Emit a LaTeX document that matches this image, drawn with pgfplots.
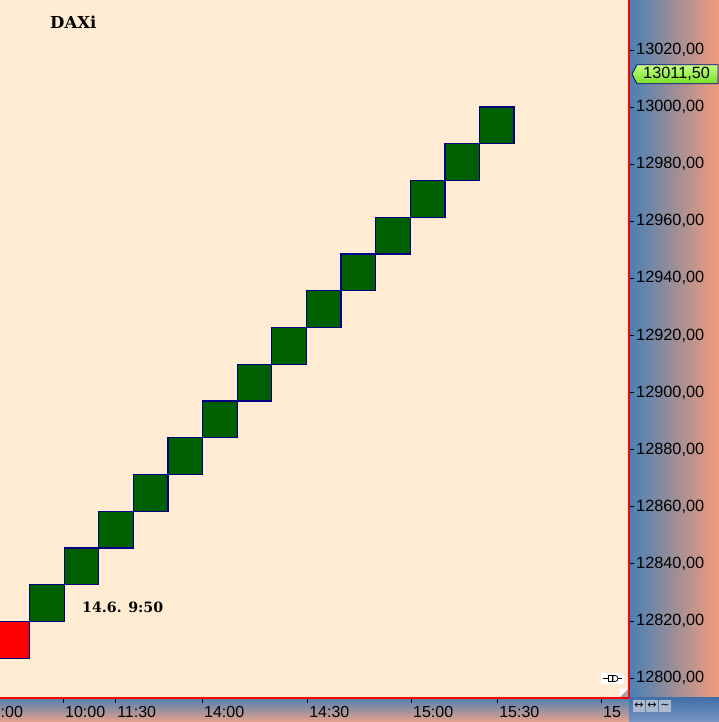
\documentclass[border=0pt]{standalone}
\usepackage{pgfplots}
\pgfplotsset{compat=1.18}
\usepackage{pgfplotstable}
\usepackage{fontspec}
\setmainfont{Liberation Sans}
\newfontfamily\serifb{DejaVu Serif}
\newfontfamily\symf{DejaVu Sans}
\definecolor{bg}{RGB}{255,236,210}
\definecolor{dgreen}{RGB}{0,96,0}
\definecolor{navyb}{RGB}{0,0,128}
\definecolor{panL}{RGB}{72,128,180}
\definecolor{panR}{RGB}{242,156,124}
\definecolor{botT}{RGB}{80,128,178}
\definecolor{botB}{RGB}{232,162,138}
\definecolor{brT}{RGB}{66,112,168}
\definecolor{brB}{RGB}{120,150,192}
\definecolor{tagT}{RGB}{196,255,130}
\definecolor{tagB}{RGB}{120,222,40}
\definecolor{icon}{RGB}{170,186,208}

\pgfplotstableread{
k lo g r
1 12806.95 0 12.87
2 12819.82 12.87 0
3 12832.69 12.87 0
4 12845.56 12.87 0
5 12858.43 12.87 0
6 12871.30 12.87 0
7 12884.17 12.87 0
8 12897.04 12.87 0
9 12909.91 12.87 0
10 12922.78 12.87 0
11 12935.65 12.87 0
12 12948.52 12.87 0
13 12961.39 12.87 0
14 12974.26 12.87 0
15 12987.13 12.87 0
}\boxes

\begin{document}
\begin{tikzpicture}[x=1pt,y=1pt]
\path[use as bounding box, clip] (0,0) rectangle (719,722);
\fill[bg] (0,24) rectangle (629,722);
\shade[left color=panL, right color=panR] (629,24) rectangle (719,722);
\shade[top color=botT, bottom color=botB] (0,0) rectangle (629,24);
\shade[top color=brT, bottom color=brB] (629,0) rectangle (719,24);
\begin{axis}[
  at={(0pt,24pt)}, anchor=south west,
  scale only axis, width=629pt, height=698pt,
  xmin=0.645, xmax=18.82, ymin=12793.0, ymax=13037.5,
  clip=false,
  ybar stacked, bar width=1,
  axis x line*=bottom, axis y line*=right,
  axis line style={red, line width=1.5pt},
  tick align=outside,
  major tick length=5pt, minor tick length=3pt,
  tick style={black, line width=0.8pt},
  ytick={12800,12820,...,13020},
  minor y tick num=3,
  scaled y ticks=false,
  xtick={2.465,3.97,6.48,9.52,12.52,15.01,18.01},
  xticklabels={10:00,11:30,14:00,14:30,15:00,15:30,15},
  xticklabel style={font=\fontsize{16}{18}\selectfont, anchor=north west, inner sep=0pt, xshift=2pt, yshift=-3pt},
  yticklabel style={font=\fontsize{16.3}{18}\selectfont, anchor=west, inner sep=0pt, xshift=2pt},
  y tick label style={/pgf/number format/fixed, /pgf/number format/fixed zerofill, /pgf/number format/precision=2, /pgf/number format/use comma, /pgf/number format/1000 sep={}},
  /pgf/number format/assume math mode=true,
]
\addplot[draw=none, fill=none] table[x=k,y=lo]{\boxes};
\addplot[draw=navyb, fill=dgreen, line width=1.3pt] table[x=k,y=g]{\boxes};
\addplot[draw=navyb, fill=red, line width=1.3pt] table[x=k,y=r]{\boxes};
\coordinate (tagpt) at (axis cs:18.82,13011.5);
\end{axis}
% price tag
\draw[navyb, line width=0.8pt, top color=tagT, bottom color=tagB]
  ([xshift=3pt]tagpt) -- ++(5,9.5) -- ++(81,0) -- ++(0,-19) -- ++(-81,0) -- cycle;
\node[anchor=west, inner sep=0pt, font=\fontsize{16.3}{18}\selectfont] at ([xshift=14pt]tagpt) {13011,50};
% texts
\node[anchor=base west, inner sep=0pt, font=\serifb\bfseries\fontsize{16.5}{19}\selectfont] at (50,693) {DAXi};
\node[anchor=base west, inner sep=0pt, font=\serifb\bfseries\fontsize{14.2}{17}\selectfont] at (82,109) {14.6. 9:50};
\node[anchor=north west, inner sep=0pt, font=\fontsize{16}{18}\selectfont] at (0.5,16) {:00};
% icons
\fill[white] (601,38) rectangle (624,49);
\draw[black, line width=0.8pt] (603,43.5) -- (608,43.5) (618,43.5) -- (622,43.5);
\draw[black, line width=0.8pt] (608,40.5) rectangle (612,46.5);
\draw[black, line width=0.8pt] (613,40.5) -- (615,40.5) arc (-90:90:3) -- (613,46.5) -- cycle;
\fill[white] (620,25) rectangle (628,33);
\fill[gray!70] (620,25) -- (628,25) -- (628,33) -- cycle;
\foreach \xx/\s in {633/{↔},646/{↔},659/{∼}} {
  \fill[icon] (\xx,10) rectangle ++(12,12);
  \node[inner sep=0pt, font=\symf\fontsize{11}{12}\selectfont] at (\xx+6,16) {\s};
}
\end{tikzpicture}
\end{document}
